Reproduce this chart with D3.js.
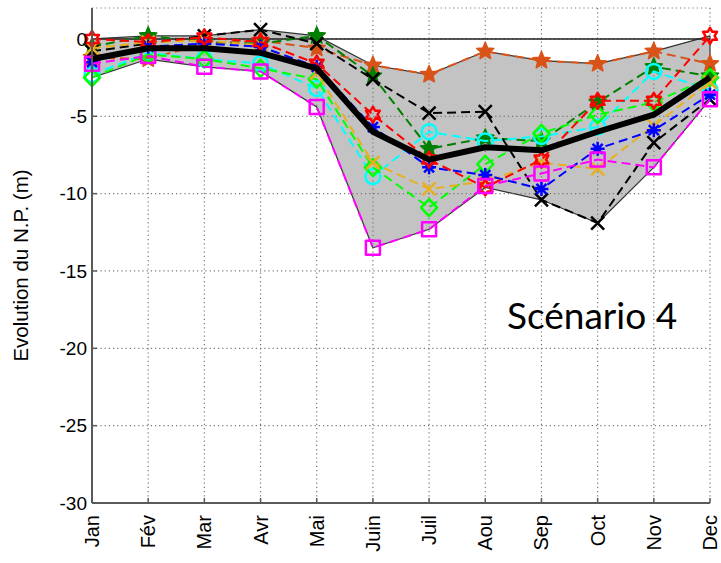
<!DOCTYPE html>
<html>
<head>
<meta charset="utf-8">
<script src="https://cdn.jsdelivr.net/npm/d3@7"></script>
<style>
  html, body { margin: 0; padding: 0; background: #fff; }
  svg { display: block; }
</style>
</head>
<body>
<svg id="chart" width="721" height="563"></svg>
<script>
// ---------------- DATA ----------------
const months = ["Jan","Fév","Mar","Avr","Mai","Juin","Juil","Aou","Sep","Oct","Nov","Dec"];
const yTicks = [0, -5, -10, -15, -20, -25, -30];

const serieRed     = [0.0, -0.2, 0.1, -0.2, -1.6, -4.9, -7.8, -9.6, -7.8, -4.0, -4.0, 0.2];
const serieOrange  = [-1.2, -1.3, -0.3, -0.1, -0.6, -1.7, -2.3, -0.8, -1.4, -1.6, -0.8, -1.6];
const serieDkGreen = [-0.5, 0.2, -0.2, -0.3, 0.2, -2.4, -7.1, -6.4, -6.6, -4.1, -1.8, -2.4];
const serieBlackX  = [-0.8, -0.3, 0.2, 0.6, -0.3, -2.6, -4.8, -4.7, -10.4, -11.9, -6.7, -3.9];
const serieBlue    = [-1.5, -0.5, -0.3, -0.5, -1.8, -5.7, -8.3, -8.8, -9.7, -7.1, -5.9, -3.6];
const serieCyan    = [-2.3, -0.9, -1.3, -1.6, -3.2, -8.9, -6.0, -6.6, -6.3, -5.7, -2.1, -3.3];
const serieGreen   = [-2.5, -1.0, -1.3, -1.9, -2.6, -8.3, -10.9, -8.1, -6.1, -4.9, -4.1, -2.5];
const serieGold    = [-0.6, -0.2, -0.1, -0.4, -2.2, -8.0, -9.7, -9.2, -8.0, -8.4, -5.6, -2.8];
const serieMagenta = [-1.6, -1.1, -1.8, -2.1, -4.4, -13.5, -12.3, -9.5, -8.7, -7.8, -8.3, -3.9];
const serieMean    = [-1.3, -0.6, -0.6, -0.9, -1.9, -6.0, -7.8, -7.0, -7.2, -6.0, -4.9, -2.5];

const seriesList = [
  { values: serieOrange,  color: "#d95319", marker: "star" },
  { values: serieDkGreen, color: "#008000", marker: "star" },
  { values: serieBlackX,  color: "#000000", marker: "x" },
  { values: serieCyan,    color: "#00ffff", marker: "circle" },
  { values: serieGreen,   color: "#00ff00", marker: "diamond" },
  { values: serieGold,    color: "#e8b020", marker: "x" },
  { values: serieBlue,    color: "#0000ff", marker: "asterisk" },
  { values: serieRed,     color: "#ff0000", marker: "hexagram" },
  { values: serieMagenta, color: "#ff00ff", marker: "square" }
];

// ---------------- LAYOUT ----------------
const svg = d3.select("#chart");
const x = d3.scalePoint().domain(months).range([92, 710]).padding(0);
const y = d3.scaleLinear().domain([-30, 2]).range([503, 8]);
const x0 = x.range()[0], x1 = x.range()[1];
const yTop = y(2), yBot = y(-30);

// envelope (min / max across series)
const allSeries = seriesList.map(s => s.values);
const upper = months.map((m, i) => d3.max(allSeries, s => s[i]));
const lower = months.map((m, i) => d3.min(allSeries, s => s[i]));

const area = d3.area()
  .x((d, i) => x(months[i]))
  .y0((d, i) => y(lower[i]))
  .y1((d, i) => y(upper[i]));
svg.append("path").datum(months)
  .attr("d", area)
  .attr("fill", "#c3c3c3");

const edge = d3.line().x((d, i) => x(months[i])).y(d => y(d));
svg.append("path").datum(upper).attr("d", edge)
  .attr("fill", "none").attr("stroke", "#333").attr("stroke-width", 1.2);
svg.append("path").datum(lower).attr("d", edge)
  .attr("fill", "none").attr("stroke", "#333").attr("stroke-width", 1.2);
svg.append("line")
  .attr("x1", x("Dec")).attr("x2", x("Dec"))
  .attr("y1", y(upper[11])).attr("y2", y(lower[11]))
  .attr("stroke", "#333").attr("stroke-width", 1.2);

// ---------------- GRID ----------------
const grid = svg.append("g").attr("stroke", "#777").attr("stroke-width", 1.2)
  .attr("stroke-dasharray", "1.2,3");
grid.selectAll(".vg").data(months.slice(1)).join("line")
  .attr("x1", d => x(d)).attr("x2", d => x(d))
  .attr("y1", yTop).attr("y2", yBot);
grid.selectAll(".hg").data(yTicks.slice(0, -1).concat([2])).join("line")
  .attr("x1", x0).attr("x2", x1)
  .attr("y1", d => y(d)).attr("y2", d => y(d));

// zero line
svg.append("line")
  .attr("x1", x0).attr("x2", x1)
  .attr("y1", y(0)).attr("y2", y(0))
  .attr("stroke", "#222").attr("stroke-width", 1.6);

// ---------------- MARKERS ----------------
function markerPath(type) {
  const p = d3.path();
  if (type === "x") {
    const r = 6.5;
    p.moveTo(-r, -r); p.lineTo(r, r); p.moveTo(-r, r); p.lineTo(r, -r);
  } else if (type === "asterisk") {
    const r = 7, q = 5;
    p.moveTo(-r, 0); p.lineTo(r, 0); p.moveTo(0, -r); p.lineTo(0, r);
    p.moveTo(-q, -q); p.lineTo(q, q); p.moveTo(-q, q); p.lineTo(q, -q);
  } else if (type === "circle") {
    p.moveTo(7.5, 0); p.arc(0, 0, 7.5, 0, 2 * Math.PI);
  } else if (type === "diamond") {
    p.moveTo(0, -8.5); p.lineTo(8, 0); p.lineTo(0, 8.5); p.lineTo(-8, 0); p.closePath();
  } else if (type === "square") {
    p.rect(-7, -7, 14, 14);
  } else if (type === "star") {
    const R = 9, r = 4;
    for (let k = 0; k < 10; k++) {
      const a = -Math.PI / 2 + k * Math.PI / 5;
      const rr = k % 2 === 0 ? R : r;
      if (k === 0) p.moveTo(rr * Math.cos(a), rr * Math.sin(a));
      else p.lineTo(rr * Math.cos(a), rr * Math.sin(a));
    }
    p.closePath();
  } else if (type === "hexagram") {
    const R = 8, r = 4.6;
    for (let k = 0; k < 12; k++) {
      const a = -Math.PI / 2 + k * Math.PI / 6;
      const rr = k % 2 === 0 ? R : r;
      if (k === 0) p.moveTo(rr * Math.cos(a), rr * Math.sin(a));
      else p.lineTo(rr * Math.cos(a), rr * Math.sin(a));
    }
    p.closePath();
  }
  return p.toString();
}

const line = d3.line().x((d, i) => x(months[i])).y(d => y(d));
const gSeries = svg.append("g");
seriesList.forEach(s => {
  const g = gSeries.append("g");
  g.append("path").datum(s.values).attr("d", line)
    .attr("fill", "none").attr("stroke", s.color)
    .attr("stroke-width", 2).attr("stroke-dasharray", "9,5");
  const filled = s.marker === "star";
  g.selectAll("path.mk").data(s.values).join("path")
    .attr("class", "mk")
    .attr("transform", (d, i) => `translate(${x(months[i])},${y(d)})`)
    .attr("d", markerPath(s.marker))
    .attr("fill", filled ? s.color : "none")
    .attr("stroke", s.color)
    .attr("stroke-width", filled ? 1.5 : 2.5)
    .attr("stroke-linejoin", "round");
});

// mean line
svg.append("path").datum(serieMean).attr("d", line)
  .attr("fill", "none").attr("stroke", "#000").attr("stroke-width", 6)
  .attr("stroke-linejoin", "round");

// ---------------- AXES ----------------
const axisColor = "#5a5a5a";
svg.append("line").attr("x1", x0).attr("x2", x0).attr("y1", yTop).attr("y2", yBot)
  .attr("stroke", axisColor).attr("stroke-width", 2);
svg.append("line").attr("x1", x0).attr("x2", x1).attr("y1", yBot).attr("y2", yBot)
  .attr("stroke", axisColor).attr("stroke-width", 2);
svg.append("g").selectAll("line").data(yTicks).join("line")
  .attr("x1", x0).attr("x2", x0 + 5).attr("y1", d => y(d)).attr("y2", d => y(d))
  .attr("stroke", axisColor).attr("stroke-width", 1.5);
svg.append("g").selectAll("line").data(months).join("line")
  .attr("x1", d => x(d)).attr("x2", d => x(d)).attr("y1", yBot).attr("y2", yBot - 5)
  .attr("stroke", axisColor).attr("stroke-width", 1.5);

const font = "'Liberation Sans', Arial, sans-serif";
svg.append("g").selectAll("text").data(yTicks).join("text")
  .attr("x", x0 - 5).attr("y", d => y(d)).attr("dy", "0.35em")
  .attr("text-anchor", "end")
  .attr("font-family", font).attr("font-size", 19).attr("fill", "#000")
  .text(d => d);

svg.append("g").selectAll("text").data(months).join("text")
  .attr("transform", d => `translate(${x(d) + 7},${yBot + 12}) rotate(-90)`)
  .attr("text-anchor", "end")
  .attr("font-family", font).attr("font-size", 20).attr("fill", "#000")
  .text(d => d);

svg.append("text")
  .attr("transform", `translate(28,${(yTop + yBot) / 2 + 10}) rotate(-90)`)
  .attr("text-anchor", "middle")
  .attr("font-family", font).attr("font-size", 20.5).attr("fill", "#000")
  .text("Evolution du N.P. (m)");

svg.append("text")
  .attr("x", 507).attr("y", 329)
  .attr("font-family", "Lato, 'Open Sans', sans-serif").attr("font-size", 37)
  .attr("fill", "#000")
  .text("Scénario 4");
</script>
</body>
</html>
